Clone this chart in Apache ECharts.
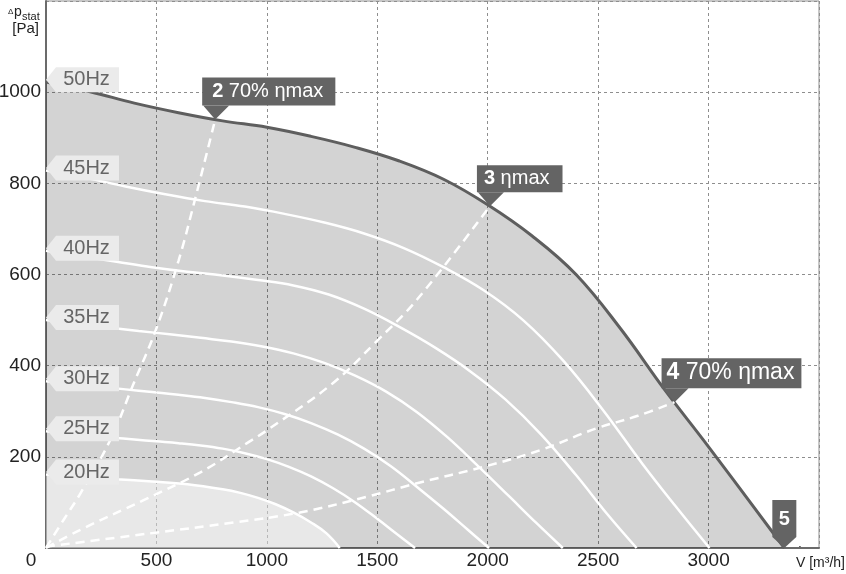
<!DOCTYPE html>
<html>
<head>
<meta charset="utf-8">
<title>Fan curve</title>
<script src="https://cdn.jsdelivr.net/npm/echarts@6/dist/echarts.min.js"></script>
<style>
  html, body { margin: 0; padding: 0; background: #fff; }
  #chart { width: 846px; height: 574px; }
</style>
</head>
<body>
<div id="chart"></div>
<script>
// airflow [m3/h] / static pressure [Pa]
var xTicks = [0, 500, 1000, 1500, 2000, 2500, 3000, 3500]
var yTicks = [0, 200, 400, 600, 800, 1000, 1200]

var hzNames = ['50Hz', '45Hz', '40Hz', '35Hz', '30Hz', '25Hz', '20Hz']
var hz50 = [[0, 1022], [200, 1001], [400, 976], [600, 955], [800, 937], [1000, 923], [1200, 903], [1400, 879], [1600, 849], [1800, 809], [2000, 753], [2200, 685], [2400, 600], [2600, 482], [2800, 348], [3000, 222], [3343, 0]]
var hz45 = [[0, 828], [180, 812], [360, 793], [540, 776], [720, 761], [900, 749], [1080, 733], [1260, 714], [1440, 690], [1620, 658], [1800, 616], [1980, 566], [2160, 500], [2340, 412], [2520, 304], [2700, 185], [2850, 92], [3004, 0]]
var hz40 = [[0, 652], [160, 640], [320, 628], [480, 616], [640, 606], [800, 598], [960, 588], [1120, 576], [1280, 556], [1440, 525], [1600, 485], [1760, 440], [1920, 388], [2080, 326], [2240, 250], [2400, 160], [2540, 75], [2674, 0]]
var hz35 = [[0, 500], [140, 492], [280, 484], [420, 476], [560, 469], [700, 461], [840, 453], [980, 442], [1120, 427], [1260, 406], [1400, 378], [1540, 343], [1680, 298], [1820, 242], [1960, 178], [2100, 112], [2220, 55], [2340, 0]]
var hz30 = [[0, 366], [120, 360], [240, 354], [360, 348], [480, 342], [600, 336], [720, 329], [840, 320], [960, 309], [1080, 294], [1200, 274], [1320, 249], [1440, 218], [1560, 180], [1680, 134], [1800, 86], [1910, 40], [2006, 0]]
var hz25 = [[0, 256], [100, 251], [200, 246], [300, 242], [400, 238], [500, 234], [600, 230], [700, 225], [800, 218], [900, 208], [1000, 195], [1100, 178], [1200, 157], [1300, 131], [1400, 100], [1500, 64], [1590, 30], [1671, 0]]
var hz20 = [[0, 161], [160, 156], [320, 151], [480, 146], [640, 140], [800, 129], [880, 121], [960, 110], [1040, 96], [1120, 78], [1200, 56], [1270, 32], [1330, 0]]

// system curves through the marked operating points
var sys2 = [[0, 0], [80, 62], [156, 120], [292, 238], [396, 360], [500, 482], [600, 630], [670, 756], [766, 940]]
var sys3 = [[0, 0], [156, 40], [442, 105], [699, 166], [910, 230], [1000, 258], [1300, 362], [1500, 455], [1680, 545], [2010, 750]]
var sys4 = [[0, 3], [470, 32], [850, 56], [1150, 78], [1450, 112], [1680, 142], [1980, 178], [2240, 215], [2490, 262], [2680, 290], [2846, 320]]

var hzCurves = [hz50, hz45, hz40, hz35, hz30, hz25, hz20]
var pointNames = ['2', '3', '4', '5']
var pointTexts = [' 70% ηmax', ' ηmax', ' 70% ηmax', '']

var font = '"Liberation Sans", Arial, sans-serif'
var chart = echarts.init(document.getElementById('chart'))

var tagPath = 'path://M0,12.5 L10,0 L73,0 L73,25 L10,25 Z'
var pinPath = 'path://M0,0 L26,0 L12,14 Z'
var endPath = 'path://M0,0 L24,0 L24,37 L12,48 L0,37 Z'

function last(arr) {
  return arr[arr.length - 1]
}

var marks = hzCurves.map(function(c, i) {
  return {
    name: hzNames[i],
    coord: c[0],
    symbol: tagPath,
    symbolSize: [73, 25],
    symbolOffset: [36.5, -2.5],
    itemStyle: { color: '#ebebeb' },
    label: {
      show: true,
      position: 'inside',
      offset: [4, 0],
      formatter: hzNames[i],
      color: '#666',
      fontSize: 20,
      fontFamily: font
    }
  }
})

function pin(pt, i, size, pad, h) {
  return {
    coord: pt,
    symbol: pinPath,
    symbolSize: [26, 14],
    symbolOffset: [1, -7],
    itemStyle: { color: '#646464' },
    label: {
      show: true,
      position: [-1, -h],
      formatter: '{b|' + pointNames[i] + '}{t|' + pointTexts[i] + '}',
      backgroundColor: '#646464',
      padding: pad,
      rich: {
        b: { fontWeight: 'bold', fontSize: size, lineHeight: h - pad[0] - pad[2], color: '#fff', fontFamily: font },
        t: { fontSize: size, lineHeight: h - pad[0] - pad[2], color: '#fff', fontFamily: font }
      }
    }
  }
}

marks.push(pin(last(sys2), 0, 20, [4, 12, 4, 10], 28))
marks.push(pin(last(sys3), 1, 20, [4, 13, 4, 7], 27))
marks.push(pin(last(sys4), 2, 23, [4, 7, 4, 5], 30))
marks.push({
  coord: last(hz50),
  symbol: endPath,
  symbolSize: [24, 48],
  symbolOffset: [0, -24],
  itemStyle: { color: '#646464' },
  label: {
    show: true,
    position: 'inside',
    offset: [0, -5],
    formatter: pointNames[3],
    color: '#fff',
    fontSize: 20,
    fontWeight: 'bold',
    fontFamily: font
  }
})

var series = [{
  name: hzNames[0],
  type: 'line',
  data: hz50,
  smooth: 0.4,
  symbol: 'none',
  z: 2,
  lineStyle: { color: '#5e5e5e', width: 3 },
  areaStyle: { color: 'rgba(0,0,0,0.172)', opacity: 1 }
}]

for (var i = 1; i < hzCurves.length; i++) {
  var s = {
    name: hzNames[i],
    type: 'line',
    data: hzCurves[i],
    smooth: 0.4,
    symbol: 'none',
    z: 3,
    lineStyle: { color: '#ffffff', width: 2.5 }
  }
  if (i === hzCurves.length - 1) {
    s.areaStyle = { color: 'rgba(255,255,255,0.48)', opacity: 1 }
  }
  series.push(s)
}

;[sys2, sys3, sys4].forEach(function(d, k) {
  series.push({
    name: 'sys' + (k + 2),
    type: 'line',
    data: d,
    smooth: 0.4,
    symbol: 'none',
    z: 4,
    lineStyle: { color: '#ffffff', width: 2.5, type: [9, 6] }
  })
})

series.push({
  name: 'marks',
  type: 'scatter',
  data: [],
  z: 10,
  markPoint: { silent: true, animation: false, data: marks }
})

chart.setOption({
  animation: false,
  backgroundColor: '#fff',
  textStyle: { fontFamily: font },
  grid: {
    left: 46,
    right: 27,
    top: 1,
    bottom: 26,
    outerBoundsMode: 'none',
    show: true,
    borderColor: '#8e8e8e',
    borderWidth: 1
  },
  xAxis: {
    type: 'value',
    min: xTicks[0],
    max: xTicks[xTicks.length - 1],
    interval: xTicks[1] - xTicks[0],
    axisLine: { show: true, onZero: false, lineStyle: { color: '#6b6b6b', width: 2 } },
    axisTick: { show: false },
    splitLine: { show: true, lineStyle: { color: '#8e8e8e', width: 1, type: [3, 3] } },
    axisLabel: {
      margin: 3,
      fontSize: 19,
      color: '#222',
      showMinLabel: true,
      showMaxLabel: true,
      formatter: function(v) {
        if (v === xTicks[0]) return '{z|' + v + '}'
        if (v === xTicks[xTicks.length - 1]) return ''
        return String(v)
      },
      rich: { z: { fontSize: 19, color: '#222', padding: [0, 30, 0, 0] } }
    }
  },
  yAxis: {
    type: 'value',
    min: yTicks[0],
    max: yTicks[yTicks.length - 1],
    interval: yTicks[1] - yTicks[0],
    axisLine: { show: true, onZero: false, lineStyle: { color: '#6b6b6b', width: 2 } },
    axisTick: { show: false },
    splitLine: { show: true, lineStyle: { color: '#8e8e8e', width: 1, type: [3, 3] } },
    axisLabel: {
      margin: 5,
      fontSize: 19,
      color: '#222',
      formatter: function(v) {
        if (v === yTicks[0] || v === yTicks[yTicks.length - 1]) return ''
        return String(v)
      }
    }
  },
  graphic: [
    { type: 'text', x: 8, y: 8, style: { text: 'Δ', fontSize: 8, fontFamily: font, fill: '#222', align: 'left', verticalAlign: 'top' } },
    { type: 'text', x: 14, y: 19, style: { text: 'p', fontSize: 14, fontFamily: font, fill: '#222', align: 'left', verticalAlign: 'bottom' } },
    { type: 'text', x: 22, y: 22, style: { text: 'stat', fontSize: 11, fontFamily: font, fill: '#222', align: 'left', verticalAlign: 'bottom' } },
    { type: 'text', x: 39, y: 29, style: { text: '[Pa]', fontSize: 15, fontFamily: font, fill: '#222', align: 'right', verticalAlign: 'middle' } },
    { type: 'text', x: 796, y: 563, style: { text: 'V', fontSize: 14, fontFamily: font, fill: '#222', align: 'left', verticalAlign: 'middle' } },
    { type: 'text', x: 800.5, y: 553, style: { text: '˙', fontSize: 14, fontFamily: font, fill: '#222', align: 'center', verticalAlign: 'middle' } },
    { type: 'text', x: 845, y: 563, style: { text: '[m³/h]', fontSize: 14, fontFamily: font, fill: '#222', align: 'right', verticalAlign: 'middle' } }
  ],
  series: series
})
</script>
</body>
</html>
